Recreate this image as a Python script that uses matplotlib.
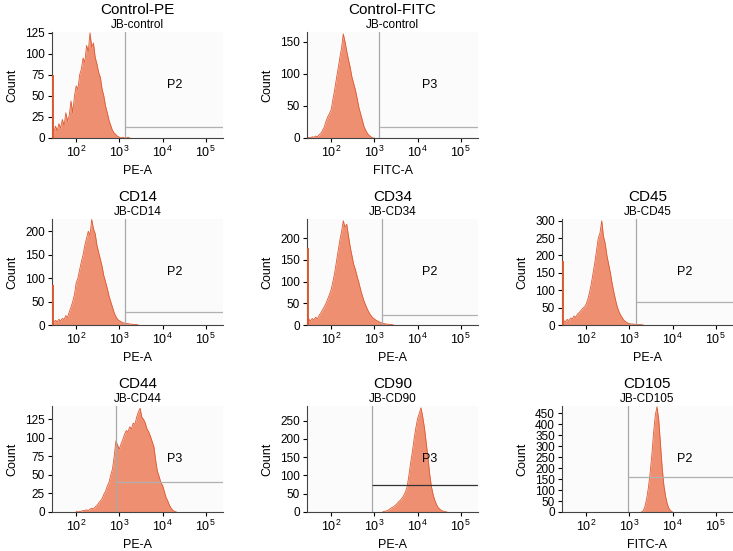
import numpy as np
import matplotlib
matplotlib.use("Agg")
import matplotlib.pyplot as plt

plt.rcParams['font.family'] = ['Liberation Sans', 'DejaVu Sans']

# panel info
titles = ['Control-PE', 'Control-FITC', 'CD14', 'CD34', 'CD45', 'CD44', 'CD90', 'CD105']
subtitles = ['JB-control', 'JB-control', 'JB-CD14', 'JB-CD34', 'JB-CD45', 'JB-CD44', 'JB-CD90', 'JB-CD105']
xlabels = ['PE-A', 'FITC-A', 'PE-A', 'PE-A', 'PE-A', 'PE-A', 'PE-A', 'FITC-A']
gate_names = ['P2', 'P3', 'P2', 'P2', 'P2', 'P3', 'P3', 'P2']
ymax = [126, 165, 226, 244, 305, 143, 290, 483]
ytick_step = [25, 50, 50, 50, 50, 25, 50, 50]
gate_x = [1350, 1260, 1350, 1480, 1410, 820, 890, 910]   # PE-A / FITC-A value of vertical gate
gate_y = [13, 17, 27, 23, 66, 40, 73, 160]              # count level of horizontal gate
left_spike = [75, 0, 86, 177, 185, 0, 0, 0]               # pile-up at axis minimum

# histogram counts, bins start at log10 value hist_start, width 0.04 decade
hist_start = [1.44, 1.44, 1.44, 1.44, 1.44, 2.00, 3.20, 3.28]
bin_w = 0.04
counts_ctrl_pe = [10, 6, 14, 9, 17, 12, 22, 15, 30, 20, 27, 44, 30, 50, 62, 58, 75, 82, 95, 90,
                  110, 103, 125, 108, 113, 96, 88, 78, 72, 58, 50, 38, 30, 21, 15, 9, 6, 4, 2, 1,
                  0, 1, 0, 0, 1, 0]
counts_ctrl_fitc = [0, 1, 0, 2, 1, 3, 2, 5, 7, 12, 17, 26, 33, 38, 44, 60, 75, 92, 108, 125,
                    140, 162, 150, 135, 122, 110, 95, 85, 75, 62, 48, 38, 28, 18, 12, 7, 4, 2, 0, 0]
counts_cd14 = [8, 5, 10, 7, 12, 9, 14, 12, 20, 16, 28, 38, 50, 65, 90, 100, 118, 135, 150, 170,
               185, 200, 192, 225, 205, 195, 170, 155, 140, 125, 105, 92, 78, 62, 50, 38, 26, 18, 12, 9,
               7, 5, 4, 3, 3, 2, 2, 1, 1, 1, 0]
counts_cd34 = [10, 14, 9, 15, 12, 18, 14, 22, 28, 35, 42, 50, 60, 70, 82, 100, 120, 145, 170, 195,
               215, 240, 225, 232, 205, 180, 160, 140, 128, 112, 98, 82, 68, 55, 45, 36, 28, 22, 17, 14,
               11, 9, 7, 5, 4, 3, 2, 2, 1, 1, 0]
counts_cd45 = [8, 12, 10, 16, 13, 20, 18, 26, 22, 32, 36, 42, 48, 52, 60, 75, 95, 120, 150, 180,
               215, 250, 265, 300, 255, 235, 200, 175, 150, 120, 95, 72, 52, 38, 28, 20, 13, 9, 6, 4,
               3, 3, 2, 2, 1, 1, 1, 0]
counts_cd44 = [1, 0, 1, 1, 2, 2, 3, 2, 4, 5, 4, 7, 9, 12, 15, 18, 24, 28, 35, 40,
               50, 58, 75, 96, 90, 85, 92, 98, 105, 110, 108, 115, 112, 120, 118, 128, 135, 140, 128, 125,
               120, 112, 108, 102, 95, 88, 70, 55, 48, 40, 36, 28, 20, 15, 9, 5, 2, 1, 0]
counts_cd90 = [1, 2, 3, 5, 8, 12, 14, 18, 22, 28, 32, 38, 45, 55, 70, 100, 135, 165, 200, 230,
               255, 270, 285, 260, 230, 190, 150, 105, 70, 48, 32, 20, 12, 7, 4, 2, 1, 0]
counts_cd105 = [0, 5, 25, 60, 110, 175, 260, 360, 440, 480, 420, 310, 200, 120, 70, 35, 15, 5, 0]
all_counts = [counts_ctrl_pe, counts_ctrl_fitc, counts_cd14, counts_cd34, counts_cd45,
              counts_cd44, counts_cd90, counts_cd105]

# grid slot of each panel (row, col); top-right slot stays empty
slots = [(0, 0), (0, 1), (1, 0), (1, 1), (1, 2), (2, 0), (2, 1), (2, 2)]

W, H = 733, 551
col_left = [52, 307, 562]
row_top = [32, 219, 406]
ax_w, ax_h = 171, 106
xmin, xmax = 10**1.44, 10**5.4

fill_c = '#ef8f72'
edge_c = '#de5a32'

fig = plt.figure(figsize=(7.33, 5.51), dpi=100)

for i in range(8):
    r, c = slots[i]
    ax = fig.add_axes([col_left[c] / W, 1 - (row_top[r] + ax_h) / H, ax_w / W, ax_h / H])
    ax.set_facecolor('#fbfbfb')

    cnt = np.array(all_counts[i], dtype=float)
    xs = 10 ** (hist_start[i] + bin_w * np.arange(len(cnt)))
    ax.fill_between(xs, cnt, 0, color=fill_c, lw=0)
    ax.plot(xs, cnt, color=edge_c, lw=0.6)
    if left_spike[i] > 0:
        ax.vlines(xmin * 1.08, 0, left_spike[i], color=edge_c, lw=1.4, zorder=3)

    # gate
    ax.axvline(gate_x[i], color='#a8a8a8', lw=0.9)
    hcol = '#333333' if titles[i] == 'CD90' else '#b0b0b0'
    ax.hlines(gate_y[i], gate_x[i], xmax, color=hcol, lw=0.9)
    ax.text(10**4.27, ymax[i] * 0.5, gate_names[i], fontsize=9, ha='center', va='center')

    ax.set_xscale('log')
    ax.set_xlim(xmin, xmax)
    ax.set_ylim(0, ymax[i])
    ax.set_xticks([1e2, 1e3, 1e4, 1e5])
    ax.xaxis.set_minor_locator(matplotlib.ticker.NullLocator())
    ax.set_yticks(np.arange(0, ymax[i] + 1, ytick_step[i]))
    ax.tick_params(labelsize=8.5, length=3, width=0.8, pad=2)
    ax.tick_params(axis='x', labelsize=9)
    for s in ['top', 'right']:
        ax.spines[s].set_visible(False)
    for s in ['left', 'bottom']:
        ax.spines[s].set_linewidth(0.8)
        ax.spines[s].set_color('#444444')

    ax.text(-40 / ax_w, 0.5, 'Count', transform=ax.transAxes, rotation=90,
            ha='center', va='center', fontsize=9)
    ax.text(0.5, -33 / ax_h, xlabels[i], transform=ax.transAxes,
            ha='center', va='center', fontsize=9)

    ax.annotate(titles[i], xy=(0.5, 1), xycoords='axes fraction', xytext=(0, 16),
                textcoords='offset points', ha='center', va='center', fontsize=11)
    ax.annotate(subtitles[i], xy=(0.5, 1), xycoords='axes fraction', xytext=(0, 5),
                textcoords='offset points', ha='center', va='center', fontsize=8.5)

fig.savefig('out.png', dpi=100)
